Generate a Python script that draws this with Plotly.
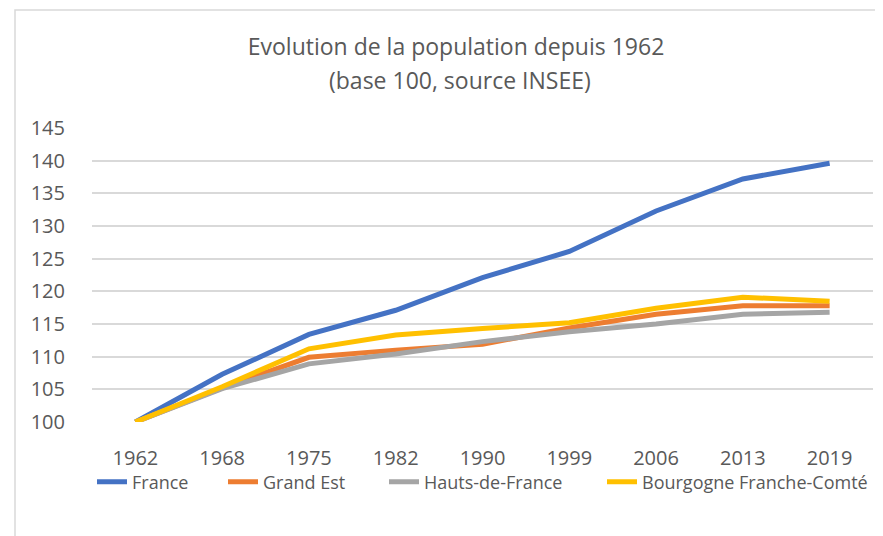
import plotly.graph_objects as go

years = ["1962", "1968", "1975", "1982", "1990", "1999", "2006", "2013", "2019"]
france = [100, 107.3, 113.4, 117.1, 122.1, 126.1, 132.3, 137.2, 139.6]
grand_est = [100, 105.2, 109.9, 111.0, 111.9, 114.4, 116.5, 117.8, 117.8]
hauts_de_france = [100, 105.1, 108.9, 110.4, 112.3, 113.8, 115.0, 116.5, 116.8]
bourgogne_fc = [100, 105.4, 111.2, 113.3, 114.3, 115.2, 117.4, 119.1, 118.5]

series = [
    ("France", france, "#4472C4"),
    ("Grand Est", grand_est, "#ED7D31"),
    ("Hauts-de-France", hauts_de_france, "#A5A5A5"),
    ("Bourgogne Franche-Comté", bourgogne_fc, "#FFC000"),
]

font_family = "Open Sans, Noto Sans, sans-serif"
text_color = "#595959"

# page offset (body margin) of 8px
OFF = 8
W, H = 883, 536
ml, mr, mt, mb = 92 - OFF, 18, 128 - OFF, 536 - (422 - OFF)
pw = W - ml - mr
ph = H - mt - mb

def px_x(x):
    return (x - OFF - ml) / pw

def px_y(y):
    return (H - mb - (y - OFF)) / ph

legend_ids = ["legend2", "legend3", "legend4", "legend5"]
legend_text_starts = [132, 263, 424, 642]

fig = go.Figure()
for (name, vals, color), lid in zip(series, legend_ids):
    fig.add_trace(go.Scatter(
        x=years, y=vals, name=name, mode="lines",
        line=dict(color=color, width=5),
        legend=lid,
    ))

legend_layouts = {}
for lid, ts in zip(legend_ids, legend_text_starts):
    legend_layouts[lid] = dict(
        orientation="h",
        x=max(0.0, px_x(ts - 40)), xanchor="left",
        y=px_y(482), yanchor="middle",
        font=dict(size=18, color=text_color, family=font_family),
        bgcolor="rgba(0,0,0,0)", borderwidth=0,
    )

fig.update_layout(
    width=W, height=H,
    margin=dict(l=ml, r=mr, t=mt, b=mb, pad=0),
    paper_bgcolor="white", plot_bgcolor="white",
    font=dict(family=font_family, color=text_color, size=20),
    title=dict(
        text="Evolution de la population depuis 1962",
        x=px_x(456), xref="paper", xanchor="center",
        y=1 - (47 - OFF) / H, yref="container", yanchor="middle",
        font=dict(size=23, color=text_color, family=font_family),
    ),
    annotations=[dict(
        text="(base 100, source INSEE)",
        x=px_x(460), xref="paper", xanchor="center",
        y=px_y(80), yref="paper", yanchor="middle",
        showarrow=False,
        font=dict(size=23, color=text_color, family=font_family),
    )],
    xaxis=dict(
        type="category", range=[-0.5, len(years) - 0.5],
        showgrid=False, zeroline=False, showline=False,
        ticks="outside", ticklen=18, tickcolor="rgba(0,0,0,0)",
        tickfont=dict(size=20, color=text_color),
    ),
    yaxis=dict(
        range=[100, 145], tick0=100, dtick=5,
        showgrid=True, gridcolor="#D9D9D9", gridwidth=1.5,
        zeroline=False, showline=False,
        ticks="outside", ticklen=22, tickcolor="rgba(0,0,0,0)",
        tickfont=dict(size=20, color=text_color),
    ),
    shapes=[dict(
        type="rect", xref="paper", yref="paper",
        x0=px_x(15), x1=px_x(900), y0=px_y(560), y1=px_y(10),
        line=dict(color="#D9D9D9", width=1.5), fillcolor="rgba(0,0,0,0)",
        layer="below",
    )],
    **legend_layouts,
)

fig.write_html("out.html")
